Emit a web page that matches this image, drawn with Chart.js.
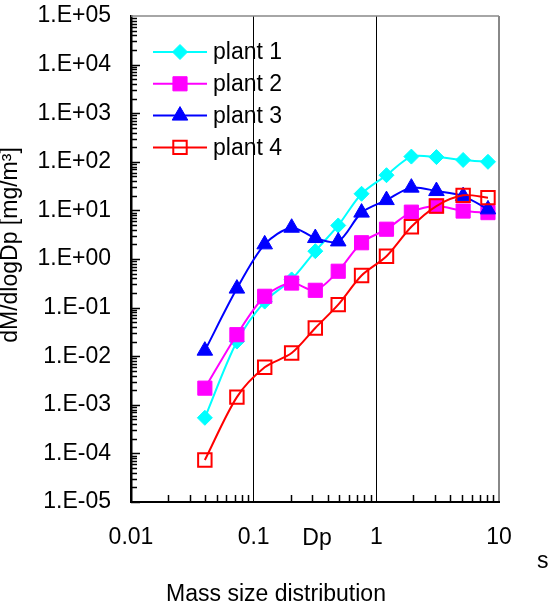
<!DOCTYPE html>
<html><head><meta charset="utf-8">
<script src="https://cdn.jsdelivr.net/npm/chart.js@4.4.1/dist/chart.umd.min.js"></script>
<style>html,body{margin:0;padding:0;background:#fff;overflow:hidden}#wrap{width:548px;height:616px;position:relative}canvas{display:block}</style>
</head><body><div id="wrap"><canvas id="c" width="548" height="616"></canvas></div>
<script>
// ---- data ----
const seriesNames = ['plant 1', 'plant 2', 'plant 3', 'plant 4'];
const xValues = [0.04, 0.073, 0.123, 0.204, 0.318, 0.489, 0.758, 1.21, 1.93, 3.09, 5.1, 8.13];
const plant1 = [5.4e-4, 0.02, 0.133, 0.38, 1.45, 4.9, 22, 53, 128, 125, 109, 100];
const plant2 = [2.2e-3, 0.0277, 0.171, 0.32, 0.227, 0.56, 2.16, 4.1, 9.2, 12.3, 9.7, 9.0];
const plant3 = [0.013, 0.246, 2.0, 4.4, 2.7, 2.3, 9.0, 16.3, 29.4, 25, 19.7, 10.5];
const plant4 = [7.3e-5, 1.44e-3, 5.9e-3, 0.0116, 0.038, 0.115, 0.457, 1.14, 4.6, 12.3, 20.4, 18.3];
const xTickValues = [0.01, 0.1, 1, 10];
const xTickLabels = ['0.01', '0.1', '1', '10'];
const yTickValues = [1e-5, 1e-4, 1e-3, 1e-2, 1e-1, 1e0, 1e1, 1e2, 1e3, 1e4, 1e5];
const yTickLabels = ['1.E-05', '1.E-04', '1.E-03', '1.E-02', '1.E-01', '1.E+00', '1.E+01', '1.E+02', '1.E+03', '1.E+04', '1.E+05'];
const xAxisTitle = 'Dp';
const yAxisTitle = 'dM/dlogDp [mg/m\u00B3]';
const bottomTitle = 'Mass size distribution';
const strayText = 's';

// ---- styling ----
const FONT = '"Liberation Sans", Arial, sans-serif';
const FS = 23;

function pts(ys) { return xValues.map((x, i) => ({ x: x, y: ys[i] })); }

const styles = [
  { color: '#00FFFF', fill: '#00FFFF', pointStyle: 'rectRot', radius: 7.5, pbw: 1 },
  { color: '#FF00FF', fill: '#FF00FF', pointStyle: 'rect', radius: 10, pbw: 1 },
  { color: '#0000FF', fill: '#0000FF', pointStyle: 'triangle', radius: 9, pbw: 1 },
  { color: '#FF0000', fill: 'rgba(0,0,0,0)', pointStyle: 'rect', radius: 9.5, pbw: 2 }
];
const seriesData = [plant1, plant2, plant3, plant4];

const datasets = seriesData.map((d, i) => ({
  label: seriesNames[i],
  data: pts(d),
  borderColor: styles[i].color,
  backgroundColor: styles[i].color,
  pointBackgroundColor: styles[i].fill,
  pointBorderColor: styles[i].color,
  pointBorderWidth: styles[i].pbw,
  pointStyle: styles[i].pointStyle,
  pointRadius: styles[i].radius,
  borderWidth: 2,
  tension: 0.3,
  fill: false,
  order: 3 - i
}));

function drawMarker(ctx, st, x, y) {
  ctx.save();
  ctx.fillStyle = st.fill;
  ctx.strokeStyle = st.color;
  ctx.lineWidth = st.pbw;
  if (Chart.helpers && Chart.helpers.drawPoint) {
    Chart.helpers.drawPoint(ctx, { pointStyle: st.pointStyle, radius: st.radius, rotation: 0, borderWidth: st.pbw }, x, y);
  }
  ctx.restore();
}

const decor = {
  id: 'decor',
  beforeDatasetsDraw(chart) {
    const ctx = chart.ctx, a = chart.chartArea;
    const xs = chart.scales.x, ys = chart.scales.y;
    ctx.save();
    // top border
    ctx.strokeStyle = '#888888';
    ctx.lineWidth = 1.5;
    ctx.beginPath(); ctx.moveTo(a.left, a.top); ctx.lineTo(a.right, a.top); ctx.stroke();
    // y minor / major ticks (inside)
    ctx.strokeStyle = '#000';
    ctx.lineWidth = 1.5;
    for (let n = -5; n <= 4; n++) {
      for (let k = 1; k <= 9; k++) {
        const v = k * Math.pow(10, n);
        const py = Math.round(ys.getPixelForValue(v)) + 0.5;
        const len = k === 1 ? 9 : 6;
        ctx.beginPath(); ctx.moveTo(a.left, py); ctx.lineTo(a.left + len, py); ctx.stroke();
      }
    }
    // x minor ticks (inside, upward)
    for (let n = -2; n <= 0; n++) {
      for (let k = 2; k <= 9; k++) {
        const v = k * Math.pow(10, n);
        const px = Math.round(xs.getPixelForValue(v)) + 0.5;
        ctx.beginPath(); ctx.moveTo(px, a.bottom); ctx.lineTo(px, a.bottom - 7); ctx.stroke();
      }
    }
    ctx.restore();
  },
  afterDraw(chart) {
    const ctx = chart.ctx;
    ctx.save();
    ctx.fillStyle = '#000';
    ctx.font = FS + 'px ' + FONT;
    ctx.textBaseline = 'alphabetic';
    ctx.textAlign = 'center';
    ctx.fillText(xAxisTitle, 317, 545);
    ctx.fillText(bottomTitle, 276, 601);
    ctx.textAlign = 'left';
    ctx.fillText(strayText, 537, 568);
    // y title
    ctx.save();
    ctx.translate(17, 245);
    ctx.rotate(-Math.PI / 2);
    ctx.textAlign = 'center';
    ctx.fillText(yAxisTitle, 0, 0);
    ctx.restore();
    // legend
    for (let i = 0; i < seriesNames.length; i++) {
      const y = 52 + i * 31.8;
      ctx.strokeStyle = styles[i].color;
      ctx.lineWidth = 2;
      ctx.beginPath(); ctx.moveTo(153, y); ctx.lineTo(207, y); ctx.stroke();
      drawMarker(ctx, styles[i], 180, y);
      ctx.fillStyle = '#000';
      ctx.textAlign = 'left';
      ctx.textBaseline = 'middle';
      ctx.fillText(seriesNames[i], 213, y + 1);
    }
    ctx.restore();
  }
};

function zeroPad(s) { s.paddingTop = 0; s.paddingBottom = 0; s.paddingLeft = 0; s.paddingRight = 0; }

new Chart(document.getElementById('c'), {
  type: 'line',
  data: { datasets: datasets },
  options: {
    responsive: false,
    devicePixelRatio: 1,
    animation: false,
    events: [],
    layout: { padding: { top: 16, right: 49, bottom: 0, left: 0 } },
    plugins: { legend: { display: false }, tooltip: { enabled: false }, title: { display: false } },
    scales: {
      x: {
        type: 'logarithmic',
        position: 'bottom',
        min: 0.01, max: 10,
        afterBuildTicks: s => { s.ticks = xTickValues.map(v => ({ value: v, major: true })); },
        afterFit: s => { s.height = 616 - 502; zeroPad(s); },
        ticks: {
          callback: (v, i) => xTickLabels[i],
          font: { size: FS, family: FONT },
          color: '#000', padding: 22, maxRotation: 0, autoSkip: false
        },
        grid: {
          drawTicks: false,
          color: c => (c.tick && c.tick.value >= 10) ? '#888888' : '#000000',
          lineWidth: c => (c.tick && c.tick.value >= 10) ? 2 : 1
        },
        border: { display: true, color: '#000', width: 2 }
      },
      y: {
        type: 'logarithmic',
        position: 'left',
        min: 1e-5, max: 1e5,
        afterBuildTicks: s => { s.ticks = yTickValues.map(v => ({ value: v, major: true })); },
        afterFit: s => { s.width = 131; zeroPad(s); },
        ticks: {
          callback: (v, i) => yTickLabels[i],
          font: { size: FS, family: FONT },
          color: '#000', padding: 20, autoSkip: false
        },
        grid: { display: false, drawTicks: false },
        border: { display: true, color: '#000', width: 2.5 }
      }
    }
  },
  plugins: [decor]
});
</script>
</body></html>
